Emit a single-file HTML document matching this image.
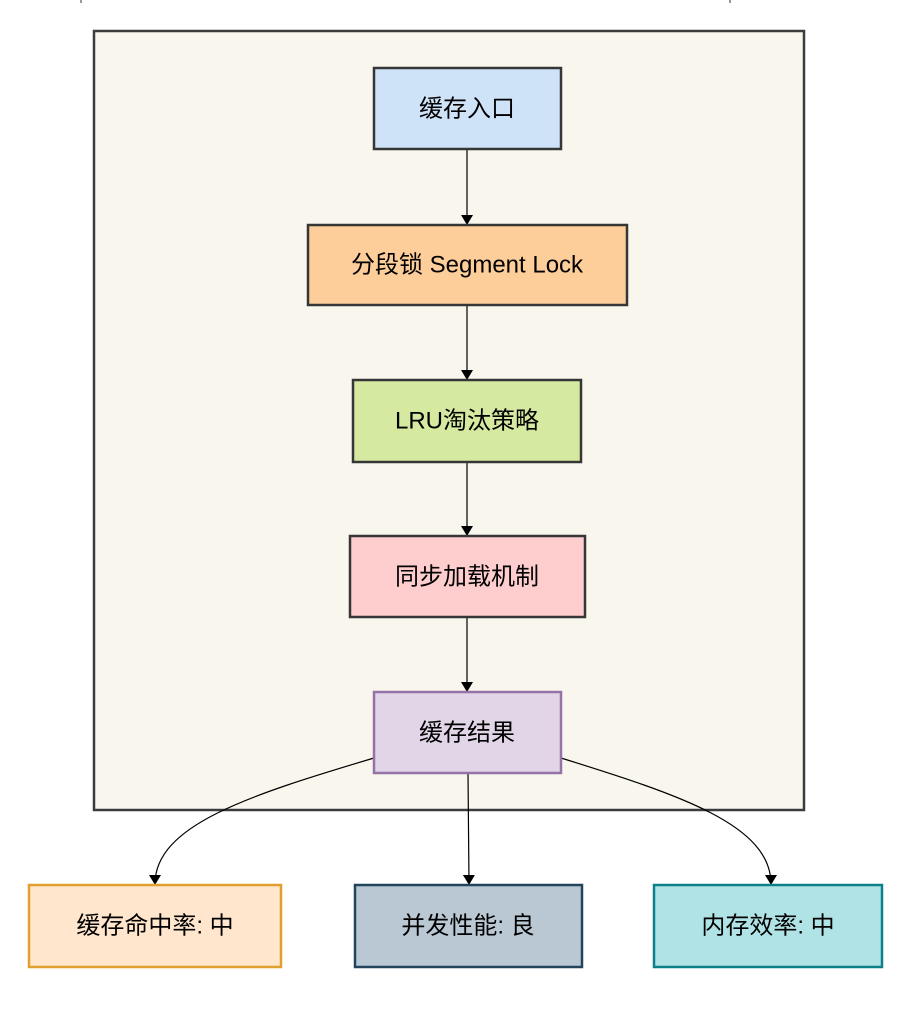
<!DOCTYPE html>
<html><head><meta charset="utf-8"><style>
body{margin:0;background:#fff;width:912px;height:1004px;overflow:hidden}
svg text{font-family:"Liberation Sans","Noto Sans CJK SC",sans-serif;font-size:24px;fill:#000;text-anchor:middle;dominant-baseline:central}
</style></head><body>
<svg width="912" height="1004" viewBox="0 0 912 1004">
<defs><marker id="a" markerWidth="10" markerHeight="12" refX="9" refY="6" orient="auto" markerUnits="userSpaceOnUse"><path d="M0,0 L10,6 L0,12 z" fill="#000"/></marker></defs>
<line x1="81" y1="0" x2="81" y2="3" stroke="#333"/>
<line x1="730" y1="0" x2="730" y2="3" stroke="#333"/>
<rect x="94" y="31" width="710" height="779" fill="#f9f6ee" stroke="#3c3c3c" stroke-width="2.5"/>
<g stroke="#000" stroke-width="1.2" fill="none" marker-end="url(#a)">
<line x1="467" y1="149" x2="467" y2="224"/>
<line x1="467" y1="305" x2="467" y2="379"/>
<line x1="467" y1="462" x2="467" y2="535"/>
<line x1="467" y1="617" x2="467" y2="691"/>
<line x1="468" y1="773" x2="469" y2="884"/>
<path d="M374,758 C250,795 155,825 155,884"/>
<path d="M561,758 C680,795 771,825 771,884"/>
</g>
<g stroke-width="2.5">
<rect x="374" y="68" width="187" height="81" fill="#cfe3f8" stroke="#363636"/>
<rect x="308" y="225" width="319" height="80" fill="#fdcd9a" stroke="#363636"/>
<rect x="353" y="380" width="228" height="82" fill="#d5e9a0" stroke="#363636"/>
<rect x="350" y="536" width="235" height="81" fill="#fecdcd" stroke="#363636"/>
<rect x="374" y="692" width="187" height="81" fill="#e1d5e7" stroke="#9673a6"/>
<rect x="29" y="885" width="252" height="82" fill="#ffe6cc" stroke="#e0a030"/>
<rect x="355" y="885" width="227" height="82" fill="#bac8d3" stroke="#23445d"/>
<rect x="654" y="885" width="228" height="82" fill="#b0e3e6" stroke="#0e8088"/>
</g>
<text x="467" y="109">缓存入口</text>
<text x="467" y="265">分段锁 Segment Lock</text>
<text x="467" y="421">LRU淘汰策略</text>
<text x="467" y="577">同步加载机制</text>
<text x="467" y="733">缓存结果</text>
<text x="155" y="926">缓存命中率: 中</text>
<text x="468" y="926">并发性能: 良</text>
<text x="768" y="926">内存效率: 中</text>
</svg>
</body></html>
